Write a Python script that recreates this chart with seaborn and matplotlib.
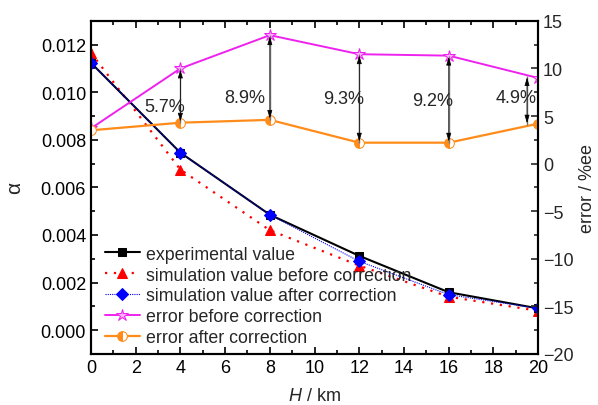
import matplotlib
matplotlib.use("Agg")
import matplotlib.pyplot as plt
import seaborn as sns
import pandas as pd
from matplotlib.ticker import MultipleLocator

H = [0, 4, 8, 12, 16, 20]
experimental = [0.01124, 0.00746, 0.00485, 0.00312, 0.00159, 0.00091]
sim_before = [0.01166, 0.00675, 0.00420, 0.00271, 0.00140, 0.00081]
sim_after = [0.01124, 0.00746, 0.00485, 0.00289, 0.00149, 0.00091]
err_before = [3.7, 10.0, 13.5, 11.5, 11.35, 9.0]
err_after = [3.5, 4.3, 4.6, 2.2, 2.2, 4.2]

gap_labels = ["5.7%", "8.9%", "9.3%", "9.2%", "4.9%"]
gap_x = [4, 8, 12, 16, 19.5]
gap_top = [10.0, 13.5, 11.5, 11.35, 9.2]
gap_bot = [4.3, 4.6, 2.2, 2.2, 4.1]
label_x = [3.3, 6.9, 11.3, 15.3, 19.0]
label_y = [6.0, 7.0, 6.8, 6.6, 6.9]

sns.set_style("ticks")
plt.rcParams['font.family'] = ['Liberation Sans', 'DejaVu Sans']
plt.rcParams['mathtext.fontset'] = 'custom'
plt.rcParams['mathtext.it'] = 'Liberation Sans:italic'
plt.rcParams['mathtext.rm'] = 'Liberation Sans'

df = pd.DataFrame({"H": H, "exp": experimental, "before": sim_before,
                   "after": sim_after, "eb": err_before, "ea": err_after})

fig = plt.figure(figsize=(5.98, 4.06), dpi=100)
ax = fig.add_axes([0.152, 0.126, 0.748, 0.82])
ax2 = ax.twinx()

sns.lineplot(data=df, x="H", y="exp", ax=ax, color="black", lw=1.5,
             marker="s", markersize=6, markeredgecolor="black",
             label="experimental value", zorder=3)
sns.lineplot(data=df, x="H", y="before", ax=ax, color="red", lw=1.6,
             linestyle=(0, (1, 3)), marker="^", markersize=7,
             markeredgecolor="red", label="simulation value before correction", zorder=2)
sns.lineplot(data=df, x="H", y="after", ax=ax, color="blue", lw=0.8,
             linestyle=(0, (1, 1)), marker="D", markersize=6,
             markeredgecolor="blue", label="simulation value after correction", zorder=4)

sns.lineplot(data=df, x="H", y="eb", ax=ax2, color="#ee22ee", lw=1.4,
             marker="*", markersize=9, markerfacecolor="#ffb0ff",
             markeredgecolor="#ee22ee", label="error before correction")
sns.lineplot(data=df, x="H", y="ea", ax=ax2, color="#ff8c1a", lw=1.6,
             marker="o", markersize=7, fillstyle="left",
             markerfacecoloralt="white", markeredgecolor="#ff8c1a",
             label="error after correction")

for gx, gt, gb in zip(gap_x, gap_top, gap_bot):
    ax2.vlines(gx, gb, gt, color="0.45", lw=1.0)
    ax2.annotate("", xy=(gx, gt), xytext=(gx, gb),
                 arrowprops=dict(arrowstyle="<|-|>,head_length=0.5,head_width=0.15",
                                 color="black", lw=0.5, shrinkA=1, shrinkB=1))
for lx, ly, lab in zip(label_x, label_y, gap_labels):
    ax2.text(lx, ly, lab, ha="center", va="center", fontsize=13)

ax.set_xlim(0, 20)
ax.set_ylim(-0.001, 0.013)
ax2.set_ylim(-20, 15)
ax.xaxis.set_major_locator(MultipleLocator(2))
ax.xaxis.set_minor_locator(MultipleLocator(1))
ax.yaxis.set_major_locator(MultipleLocator(0.002))
ax.yaxis.set_minor_locator(MultipleLocator(0.001))
ax.yaxis.set_major_formatter(matplotlib.ticker.FormatStrFormatter("%.3f"))
ax2.yaxis.set_major_locator(MultipleLocator(5))
ax2.yaxis.set_minor_locator(MultipleLocator(2.5))

ax.tick_params(which="both", direction="in", top=True, right=False,
               labelsize=13, width=1.2, colors="black")
ax.tick_params(which="major", length=5)
ax.tick_params(which="minor", length=3)
ax2.tick_params(which="both", direction="in", labelsize=13, width=1.2)
ax2.tick_params(which="major", length=5)
ax2.tick_params(which="minor", length=3)
for a in (ax, ax2):
    for s in a.spines.values():
        s.set_visible(True)
        s.set_linewidth(1.5)
        s.set_color("black")

ax.set_xlabel(r"$\mathit{H}$ / km", fontsize=13, labelpad=8)
ax.set_ylabel("α", fontsize=15, labelpad=12)
ax2.set_ylabel("error / %ee", fontsize=13, labelpad=4)

h1, l1 = ax.get_legend_handles_labels()
h2, l2 = ax2.get_legend_handles_labels()
ax.get_legend().remove()
ax2.get_legend().remove()
ax2.legend(h1 + h2, l1 + l2, loc="lower left", bbox_to_anchor=(0.005, -0.012),
           frameon=False, fontsize=12.8, handlelength=2.0, handletextpad=0.3,
           labelspacing=0.22, borderaxespad=0.25)

fig.savefig("out.png", dpi=100)
